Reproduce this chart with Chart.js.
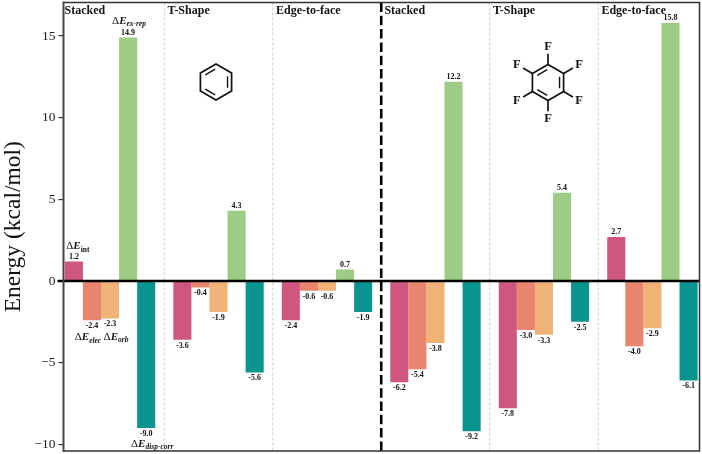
<!DOCTYPE html>
<html>
<head>
<meta charset="utf-8">
<script src="https://cdn.jsdelivr.net/npm/chart.js@4"></script>
<style>
  html, body { margin: 0; padding: 0; background: #fff; }
  canvas { display: block; }
</style>
</head>
<body>
<canvas id="myChart" width="702" height="454"></canvas>
<script>
const groups = ["Stacked", "T-Shape", "Edge-to-face", "Stacked", "T-Shape", "Edge-to-face"];
const groupPositions = [0, 1, 2, 3, 4, 5];
const yTicks = [-10, -5, 0, 5, 10, 15];

const terms = ["int", "elec", "orb", "ex-rep", "disp-corr"];
const eInt = [1.2, -3.6, -2.4, -6.2, -7.8, 2.7];
const eElec = [-2.4, -0.4, -0.6, -5.4, -3.0, -4.0];
const eOrb = [-2.3, -1.9, -0.6, -3.8, -3.3, -2.9];
const eExRep = [14.9, 4.3, 0.7, 12.2, 5.4, 15.8];
const eDispCorr = [-9.0, -5.6, -1.9, -9.2, -2.5, -6.1];
const series = [eInt, eElec, eOrb, eExRep, eDispCorr];
const colors = ["#CE5680", "#E9846F", "#F0B277", "#9DCC84", "#0A9490"];

const SERIF = '"Liberation Serif", serif';
const INK = "#111";

// the bars of the first group carry the term names: [dx, dy] from the bar end
const termOffsets = [[4, -12], [-4, 20], [6, 21], [1, -14], [6, 19]];

function drawTermName(ctx, name, cx, y) {
    const italicSub = name !== "int";
    const subFont = (italicSub ? "italic bold" : "bold") + " 7.5px " + SERIF;
    ctx.textAlign = "left";
    ctx.textBaseline = "alphabetic";
    ctx.fillStyle = INK;
    ctx.font = "11px " + SERIF;
    const w1 = ctx.measureText("Δ").width;
    ctx.font = "italic bold 11px " + SERIF;
    const w2 = ctx.measureText("E").width;
    ctx.font = subFont;
    const w3 = ctx.measureText(name).width;
    let x = cx - (w1 + w2 + w3) / 2;
    ctx.font = "11px " + SERIF;
    ctx.fillText("Δ", x, y);
    x += w1;
    ctx.font = "italic bold 11px " + SERIF;
    ctx.fillText("E", x, y);
    x += w2;
    ctx.font = subFont;
    ctx.fillText(name, x, y + 2.5);
}

function hexPoint(cx, cy, r, i) {
    const a = -Math.PI / 2 + i * Math.PI / 3;
    return [cx + r * Math.cos(a), cy + r * Math.sin(a)];
}

function drawRing(ctx, cx, cy, r, doubles) {
    ctx.strokeStyle = INK;
    ctx.lineWidth = 1.7;
    ctx.lineJoin = "miter";
    ctx.beginPath();
    for (let i = 0; i < 6; i++) {
        const p = hexPoint(cx, cy, r, i);
        if (i === 0) ctx.moveTo(p[0], p[1]);
        else ctx.lineTo(p[0], p[1]);
    }
    ctx.closePath();
    ctx.stroke();
    ctx.lineWidth = 1.4;
    doubles.forEach(function (i) {
        const a = hexPoint(cx, cy, r * 0.74, i);
        const b = hexPoint(cx, cy, r * 0.74, i + 1);
        const mx = (a[0] + b[0]) / 2, my = (a[1] + b[1]) / 2;
        ctx.beginPath();
        ctx.moveTo(a[0] + (mx - a[0]) * 0.14, a[1] + (my - a[1]) * 0.14);
        ctx.lineTo(b[0] + (mx - b[0]) * 0.14, b[1] + (my - b[1]) * 0.14);
        ctx.stroke();
    });
}

const decorations = {
    id: "decorations",
    beforeDatasetsDraw(chart) {
        const ctx = chart.ctx, area = chart.chartArea, x = chart.scales.x;
        ctx.save();
        ctx.strokeStyle = "#cfcfcf";
        ctx.lineWidth = 1;
        ctx.setLineDash([3, 2]);
        [0.5, 1.5, 3.5, 4.5].forEach(function (v) {
            const px = x.getPixelForValue(v);
            ctx.beginPath();
            ctx.moveTo(px, area.top);
            ctx.lineTo(px, area.bottom);
            ctx.stroke();
        });
        ctx.restore();
    },
    afterDatasetsDraw(chart) {
        const ctx = chart.ctx, area = chart.chartArea, x = chart.scales.x, y = chart.scales.y;
        ctx.save();

        // middle divider
        const mid = x.getPixelForValue(2.5);
        ctx.strokeStyle = "#000";
        ctx.lineWidth = 2.6;
        ctx.setLineDash([9.5, 3.8]);
        ctx.beginPath();
        ctx.moveTo(mid, area.top);
        ctx.lineTo(mid, area.bottom);
        ctx.stroke();
        ctx.setLineDash([]);

        // zero line
        const zero = y.getPixelForValue(0);
        ctx.lineWidth = 2.6;
        ctx.beginPath();
        ctx.moveTo(area.left - 6, zero);
        ctx.lineTo(area.right, zero);
        ctx.stroke();

        // frame
        ctx.strokeStyle = "#333";
        ctx.lineWidth = 1.5;
        ctx.beginPath();
        ctx.moveTo(area.left, area.top);
        ctx.lineTo(area.right, area.top);
        ctx.lineTo(area.right, area.bottom);
        ctx.lineTo(area.left, area.bottom);
        ctx.stroke();
        ctx.strokeStyle = "#444";
        ctx.lineWidth = 2;
        ctx.beginPath();
        ctx.moveTo(area.left, area.top - 1);
        ctx.lineTo(area.left, area.bottom + 1);
        ctx.stroke();

        // group titles
        ctx.fillStyle = INK;
        ctx.font = "bold 12px " + SERIF;
        ctx.textAlign = "left";
        ctx.textBaseline = "alphabetic";
        groups.forEach(function (g, i) {
            const px = Math.max(x.getPixelForValue(groupPositions[i] - 0.5) + 3.2, area.left + 1);
            ctx.fillText(g, px, 13.5);
        });

        // value labels
        ctx.font = "bold 8px " + SERIF;
        ctx.textAlign = "center";
        ctx.textBaseline = "middle";
        series.forEach(function (values, d) {
            const meta = chart.getDatasetMeta(d);
            values.forEach(function (v, i) {
                const bar = meta.data[i];
                ctx.fillText(v.toFixed(1), bar.x, bar.y + (v < 0 ? 5.8 : -4.8));
            });
        });

        // term names sit on the first group
        terms.forEach(function (name, d) {
            const bar = chart.getDatasetMeta(d).data[0];
            drawTermName(ctx, name, bar.x + termOffsets[d][0], bar.y + termOffsets[d][1]);
        });

        // benzene
        drawRing(ctx, 216, 82, 18, [1, 3, 5]);

        // hexafluorobenzene
        const cx = 548, cy = 82.5, r = 18;
        drawRing(ctx, cx, cy, r, [1, 3, 5]);
        ctx.lineWidth = 1.7;
        ctx.font = "bold 12.5px " + SERIF;
        ctx.textAlign = "center";
        ctx.textBaseline = "middle";
        for (let i = 0; i < 6; i++) {
            const a = hexPoint(cx, cy, r, i);
            const b = hexPoint(cx, cy, r * 1.6, i);
            const f = hexPoint(cx, cy, r * 2, i);
            ctx.beginPath();
            ctx.moveTo(a[0], a[1]);
            ctx.lineTo(b[0], b[1]);
            ctx.stroke();
            ctx.fillText("F", f[0], f[1]);
        }
        ctx.restore();
    }
};

new Chart(document.getElementById("myChart"), {
    type: "bar",
    data: {
        datasets: series.map(function (values, d) {
            return {
                label: terms[d],
                data: values.map(function (v, i) { return { x: groupPositions[i], y: v }; }),
                backgroundColor: colors[d],
                categoryPercentage: 5 / 6,
                barPercentage: 1
            };
        })
    },
    options: {
        responsive: false,
        animation: false,
        layout: { padding: { top: 2.5, right: 2.5, bottom: 3 } },
        plugins: { legend: { display: false }, tooltip: { enabled: false } },
        scales: {
            x: { type: "linear", offset: false, min: -0.429, max: 5.434, display: false },
            y: {
                min: -10.41,
                max: 17.05,
                afterFit(scale) {
                    scale.width = 63.5;
                    scale.paddingTop = 0;
                    scale.paddingBottom = 0;
                },
                afterBuildTicks(scale) { scale.ticks = yTicks.map(function (v) { return { value: v }; }); },
                grid: { drawOnChartArea: false, color: "#333", tickLength: 5, lineWidth: 1.2 },
                border: { display: false },
                ticks: {
                    color: "#222",
                    padding: 3,
                    font: { family: SERIF, size: 13.5 },
                    callback: function (v) { return String(v).replace("-", "\u2212"); }
                },
                title: {
                    display: true,
                    text: "Energy (kcal/mol)",
                    color: "#111",
                    font: { family: SERIF, size: 23.5 },
                    padding: { top: 0, bottom: 0 }
                }
            }
        }
    },
    plugins: [decorations]
});
</script>
</body>
</html>
